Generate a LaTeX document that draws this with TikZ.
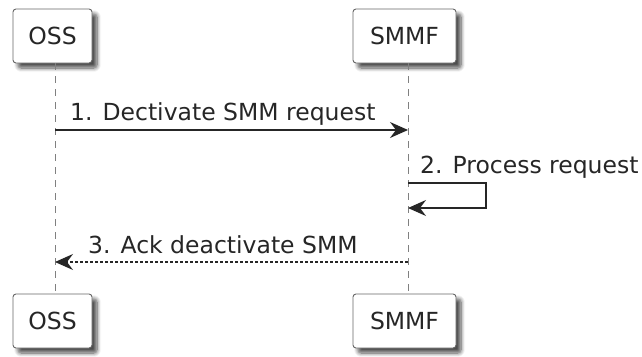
\documentclass[tikz,border=0pt]{standalone}
\usepackage{fontspec}
\setmainfont{DejaVu Sans}
\usetikzlibrary{arrows.meta,shadows.blur}

\begin{document}
\begin{tikzpicture}[x=1pt,y=-1pt,
                    font=\fontsize{23.5}{28}\selectfont,
                    actor/.style={draw=black!60,fill=white,rounded corners=3pt,line width=0.9pt,
                                  minimum height=54pt,inner sep=0pt,text=black!85,
                                  blur shadow={shadow xshift=5pt,shadow yshift=-5pt,
                                               shadow blur radius=4pt,shadow blur steps=8,
                                               shadow opacity=70}},
                    lifeline/.style={draw=black!50,line width=0.9pt,dash pattern=on 7pt off 6pt},
                    msg/.style={draw=black!85,line width=1.3pt,
                                -{Stealth[length=18pt,width=16pt,inset=6pt]}},
                    reply/.style={msg,dash pattern=on 3pt off 2pt},
                    label/.style={anchor=base west,inner sep=0pt,text=black!85}
                   ]
  \useasboundingbox (0,0) rectangle (642,356);

  % participants, top and bottom
  \node[actor,minimum width=79pt] (ossT) at (52.5,36) {OSS};
  \node[actor,minimum width=103pt] (smmfT) at (404.5,36) {SMMF};
  \node[actor,minimum width=79pt] (ossB) at (52.5,321) {OSS};
  \node[actor,minimum width=103pt] (smmfB) at (404.5,321) {SMMF};

  % lifelines
  \coordinate (ossL) at (55,0);
  \coordinate (smmfL) at (408,0);
  \draw[lifeline] (ossL |- ossT.south) -- (ossL |- ossB.north);
  \draw[lifeline] (smmfL |- smmfT.south) -- (smmfL |- smmfB.north);

  % message end points
  \coordinate (m1a) at (55,130);
  \coordinate (m1b) at (408,130);
  \coordinate (m2a) at (408,183);
  \coordinate (m2b) at (486,183);
  \coordinate (m2c) at (486,208);
  \coordinate (m2d) at (408,208);
  \coordinate (m3a) at (408,262);
  \coordinate (m3b) at (55,262);

  \draw[msg] (m1a) -- (m1b);
  \node[label] (l1) at (70,120) {1. Dectivate SMM request};

  \draw[msg] (m2a) -- (m2b) -- (m2c) -- (m2d);
  \node[label] (l2) at (420,173) {2. Process request};

  \draw[reply] (m3a) -- (m3b);
  \node[label] (l3) at (88,253) {3. Ack deactivate SMM};
\end{tikzpicture}
\end{document}
